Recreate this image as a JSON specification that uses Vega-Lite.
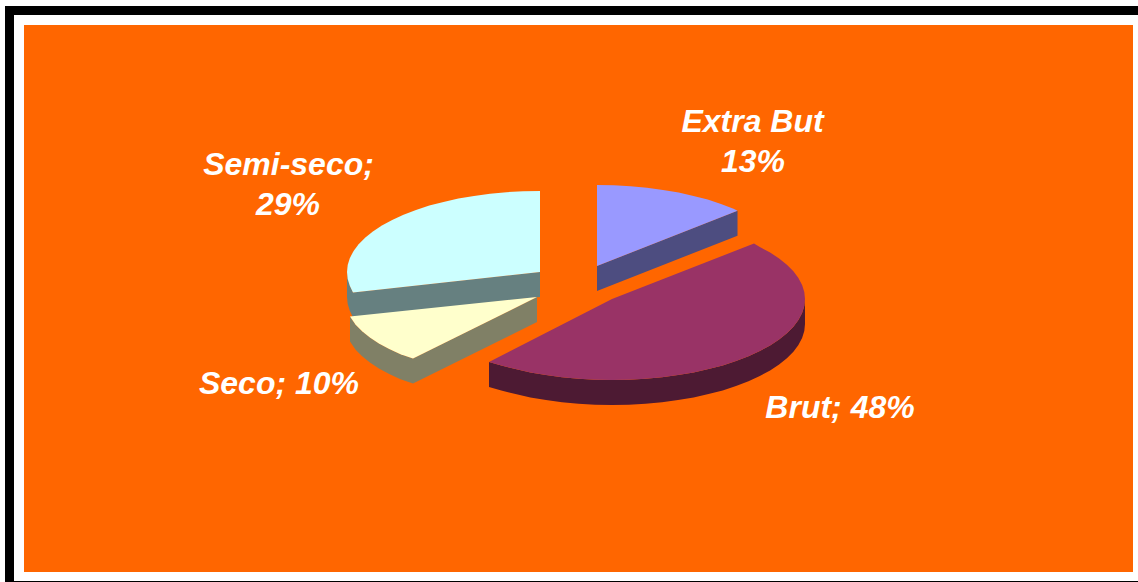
{
"$schema":"https://vega.github.io/schema/vega-lite/v6.json",
"width":1138,"height":582,"autosize":{"type":"fit","contains":"padding"},"padding":0,
"background":"#FFFFFF","config":{"view":{"stroke":null}},
"datasets":{
"frame":[
{"part":"black","x":5,"x2":1138,"y":6,"y2":15},
{"part":"black","x":5,"x2":14,"y":6,"y2":582},
{"part":"black","x":5,"x2":1138,"y":581,"y2":582},
{"part":"plot","x":24,"x2":1133,"y":25,"y2":572}],
"faces":[
{"face":"Extra But side","i":1,"x":597,"y":266},{"face":"Extra But side","i":2,"x":737.5,"y":210.7},{"face":"Extra But side","i":3,"x":737.5,"y":235.7},{"face":"Extra But side","i":4,"x":597,"y":291},
{"face":"Extra But top","i":1,"x":597,"y":266},{"face":"Extra But top","i":2,"x":597,"y":185},{"face":"Extra But top","i":3,"x":630.5,"y":186.2},{"face":"Extra But top","i":4,"x":663,"y":189.9},{"face":"Extra But top","i":5,"x":693.5,"y":195.9},{"face":"Extra But top","i":6,"x":721,"y":204},{"face":"Extra But top","i":7,"x":737.5,"y":210.7},
{"face":"Extra But top","i":2.5,"x":613.8,"y":185.3},{"face":"Extra But top","i":3.5,"x":647,"y":187.8},{"face":"Extra But top","i":4.5,"x":678.6,"y":192.6},{"face":"Extra But top","i":5.5,"x":707.7,"y":199.6},{"face":"Extra But top","i":6.5,"x":733.5,"y":208.7},
{"face":"Brut side","i":1,"x":805,"y":299},{"face":"Brut side","i":2,"x":802.1,"y":313.1},{"face":"Brut side","i":3,"x":793.4,"y":326.7},{"face":"Brut side","i":4,"x":779.1,"y":339.5},{"face":"Brut side","i":5,"x":759.8,"y":351},{"face":"Brut side","i":6,"x":736,"y":361},{"face":"Brut side","i":7,"x":708.5,"y":369.1},{"face":"Brut side","i":8,"x":678,"y":375.1},{"face":"Brut side","i":9,"x":645.5,"y":378.8},{"face":"Brut side","i":10,"x":612,"y":380},{"face":"Brut side","i":11,"x":578.5,"y":378.8},{"face":"Brut side","i":12,"x":546,"y":375.1},{"face":"Brut side","i":13,"x":515.5,"y":369.1},{"face":"Brut side","i":14,"x":489,"y":362},{"face":"Brut side","i":15,"x":489,"y":387},{"face":"Brut side","i":16,"x":515.5,"y":394.1},{"face":"Brut side","i":17,"x":546,"y":400.1},{"face":"Brut side","i":18,"x":578.5,"y":403.8},{"face":"Brut side","i":19,"x":612,"y":405},{"face":"Brut side","i":20,"x":645.5,"y":403.8},{"face":"Brut side","i":21,"x":678,"y":400.1},{"face":"Brut side","i":22,"x":708.5,"y":394.1},{"face":"Brut side","i":23,"x":736,"y":386},{"face":"Brut side","i":24,"x":759.8,"y":376},{"face":"Brut side","i":25,"x":779.1,"y":364.5},{"face":"Brut side","i":26,"x":793.4,"y":351.7},{"face":"Brut side","i":27,"x":802.1,"y":338.1},{"face":"Brut side","i":28,"x":805,"y":324},
{"face":"Brut side","i":1.5,"x":804.3,"y":306.1},{"face":"Brut side","i":2.5,"x":798.4,"y":320},{"face":"Brut side","i":3.5,"x":786.9,"y":333.2},{"face":"Brut side","i":4.5,"x":770.1,"y":345.5},{"face":"Brut side","i":5.5,"x":748.5,"y":356.3},{"face":"Brut side","i":6.5,"x":722.7,"y":365.4},{"face":"Brut side","i":7.5,"x":693.6,"y":372.4},{"face":"Brut side","i":8.5,"x":662,"y":377.2},{"face":"Brut side","i":9.5,"x":628.8,"y":379.7},{"face":"Brut side","i":10.5,"x":595.2,"y":379.7},{"face":"Brut side","i":11.5,"x":562,"y":377.2},{"face":"Brut side","i":12.5,"x":530.4,"y":372.4},{"face":"Brut side","i":13.5,"x":501.3,"y":365.4},
{"face":"Brut side","i":15.5,"x":501.3,"y":390.4},{"face":"Brut side","i":16.5,"x":530.4,"y":397.4},{"face":"Brut side","i":17.5,"x":562,"y":402.2},{"face":"Brut side","i":18.5,"x":595.2,"y":404.7},{"face":"Brut side","i":19.5,"x":628.8,"y":404.7},{"face":"Brut side","i":20.5,"x":662,"y":402.2},{"face":"Brut side","i":21.5,"x":693.6,"y":397.4},{"face":"Brut side","i":22.5,"x":722.7,"y":390.4},{"face":"Brut side","i":23.5,"x":748.5,"y":381.3},{"face":"Brut side","i":24.5,"x":770.1,"y":370.5},{"face":"Brut side","i":25.5,"x":786.9,"y":358.2},{"face":"Brut side","i":26.5,"x":798.4,"y":345},{"face":"Brut side","i":27.5,"x":804.3,"y":331.1},
{"face":"Brut top","i":1,"x":612,"y":299},{"face":"Brut top","i":2,"x":754,"y":243.5},{"face":"Brut top","i":3,"x":759.8,"y":247},{"face":"Brut top","i":4,"x":779.1,"y":258.5},{"face":"Brut top","i":5,"x":793.4,"y":271.3},{"face":"Brut top","i":6,"x":802.1,"y":284.9},{"face":"Brut top","i":7,"x":805,"y":299},{"face":"Brut top","i":8,"x":802.1,"y":313.1},{"face":"Brut top","i":9,"x":793.4,"y":326.7},{"face":"Brut top","i":10,"x":779.1,"y":339.5},{"face":"Brut top","i":11,"x":759.8,"y":351},{"face":"Brut top","i":12,"x":736,"y":361},{"face":"Brut top","i":13,"x":708.5,"y":369.1},{"face":"Brut top","i":14,"x":678,"y":375.1},{"face":"Brut top","i":15,"x":645.5,"y":378.8},{"face":"Brut top","i":16,"x":612,"y":380},{"face":"Brut top","i":17,"x":578.5,"y":378.8},{"face":"Brut top","i":18,"x":546,"y":375.1},{"face":"Brut top","i":19,"x":515.5,"y":369.1},{"face":"Brut top","i":20,"x":489,"y":362},
{"face":"Brut top","i":3.5,"x":770.1,"y":252.5},{"face":"Brut top","i":4.5,"x":786.9,"y":264.8},{"face":"Brut top","i":5.5,"x":798.4,"y":278},{"face":"Brut top","i":6.5,"x":804.3,"y":291.9},{"face":"Brut top","i":7.5,"x":804.3,"y":306.1},{"face":"Brut top","i":8.5,"x":798.4,"y":320},{"face":"Brut top","i":9.5,"x":786.9,"y":333.2},{"face":"Brut top","i":10.5,"x":770.1,"y":345.5},{"face":"Brut top","i":11.5,"x":748.5,"y":356.3},{"face":"Brut top","i":12.5,"x":722.7,"y":365.4},{"face":"Brut top","i":13.5,"x":693.6,"y":372.4},{"face":"Brut top","i":14.5,"x":662,"y":377.2},{"face":"Brut top","i":15.5,"x":628.8,"y":379.7},{"face":"Brut top","i":16.5,"x":595.2,"y":379.7},{"face":"Brut top","i":17.5,"x":562,"y":377.2},{"face":"Brut top","i":18.5,"x":530.4,"y":372.4},{"face":"Brut top","i":19.5,"x":501.3,"y":365.4},
{"face":"Semi-seco side","i":1,"x":347,"y":272},{"face":"Semi-seco side","i":2,"x":349.9,"y":286.1},{"face":"Semi-seco side","i":3,"x":353,"y":292.6},{"face":"Semi-seco side","i":4,"x":540,"y":272},{"face":"Semi-seco side","i":5,"x":540,"y":297},{"face":"Semi-seco side","i":6,"x":353,"y":317.6},{"face":"Semi-seco side","i":7,"x":349.9,"y":311.1},{"face":"Semi-seco side","i":8,"x":347,"y":297},
{"face":"Semi-seco side","i":1.5,"x":347.7,"y":279.1},{"face":"Semi-seco side","i":7.5,"x":347.7,"y":304.1},
{"face":"Semi-seco top","i":1,"x":540,"y":272},{"face":"Semi-seco top","i":2,"x":540,"y":191},{"face":"Semi-seco top","i":3,"x":506.5,"y":192.2},{"face":"Semi-seco top","i":4,"x":474,"y":195.9},{"face":"Semi-seco top","i":5,"x":443.5,"y":201.9},{"face":"Semi-seco top","i":6,"x":416,"y":210},{"face":"Semi-seco top","i":7,"x":392.2,"y":220},{"face":"Semi-seco top","i":8,"x":372.9,"y":231.5},{"face":"Semi-seco top","i":9,"x":358.6,"y":244.3},{"face":"Semi-seco top","i":10,"x":349.9,"y":257.9},{"face":"Semi-seco top","i":11,"x":347,"y":272},{"face":"Semi-seco top","i":12,"x":349.9,"y":286.1},{"face":"Semi-seco top","i":13,"x":353,"y":292.6},
{"face":"Semi-seco top","i":2.5,"x":523.2,"y":191.3},{"face":"Semi-seco top","i":3.5,"x":490,"y":193.8},{"face":"Semi-seco top","i":4.5,"x":458.4,"y":198.6},{"face":"Semi-seco top","i":5.5,"x":429.3,"y":205.6},{"face":"Semi-seco top","i":6.5,"x":403.5,"y":214.7},{"face":"Semi-seco top","i":7.5,"x":381.9,"y":225.5},{"face":"Semi-seco top","i":8.5,"x":365.1,"y":237.8},{"face":"Semi-seco top","i":9.5,"x":353.6,"y":251},{"face":"Semi-seco top","i":10.5,"x":347.7,"y":264.9},{"face":"Semi-seco top","i":11.5,"x":347.7,"y":279.1},
{"face":"Seco side","i":1,"x":350,"y":316.6},{"face":"Seco side","i":2,"x":355.6,"y":324.7},{"face":"Seco side","i":3,"x":369.9,"y":337.5},{"face":"Seco side","i":4,"x":389.2,"y":349},{"face":"Seco side","i":5,"x":413,"y":358.5},{"face":"Seco side","i":6,"x":537,"y":297},{"face":"Seco side","i":7,"x":537,"y":322},{"face":"Seco side","i":8,"x":413,"y":383.5},{"face":"Seco side","i":9,"x":389.2,"y":374},{"face":"Seco side","i":10,"x":369.9,"y":362.5},{"face":"Seco side","i":11,"x":355.6,"y":349.7},{"face":"Seco side","i":12,"x":350,"y":341.6},
{"face":"Seco side","i":2.5,"x":362.1,"y":331.2},{"face":"Seco side","i":3.5,"x":378.9,"y":343.5},{"face":"Seco side","i":4.5,"x":400.5,"y":354.3},{"face":"Seco side","i":8.5,"x":400.5,"y":379.3},{"face":"Seco side","i":9.5,"x":378.9,"y":368.5},{"face":"Seco side","i":10.5,"x":362.1,"y":356.2},
{"face":"Seco top","i":1,"x":537,"y":297},{"face":"Seco top","i":2,"x":350,"y":316.6},{"face":"Seco top","i":3,"x":355.6,"y":324.7},{"face":"Seco top","i":4,"x":369.9,"y":337.5},{"face":"Seco top","i":5,"x":389.2,"y":349},{"face":"Seco top","i":6,"x":413,"y":358.5},
{"face":"Seco top","i":3.5,"x":362.1,"y":331.2},{"face":"Seco top","i":4.5,"x":378.9,"y":343.5},{"face":"Seco top","i":5.5,"x":400.5,"y":354.3}
],
"labels":[
{"label":"Extra But","x":752.5,"y":132},{"label":"13%","x":753,"y":172},
{"label":"Semi-seco;","x":288.5,"y":175},{"label":"29%","x":288,"y":215},
{"label":"Seco; 10%","x":279,"y":394},
{"label":"Brut; 48%","x":840,"y":418}]
},
"layer":[
{"data":{"name":"frame"},"mark":{"type":"rect"},
"encoding":{"x":{"field":"x","type":"quantitative","scale":{"domain":[0,1138],"nice":false,"zero":false},"axis":null},"x2":{"field":"x2"},
"y":{"field":"y","type":"quantitative","scale":{"domain":[0,582],"nice":false,"zero":false,"reverse":true},"axis":null},"y2":{"field":"y2"},
"color":{"field":"part","type":"nominal","scale":{"domain":["black","plot"],"range":["#000000","#FF6600"]},"legend":null}}},
{"data":{"name":"faces"},"mark":{"type":"line","filled":true,"strokeWidth":0},
"encoding":{"x":{"field":"x","type":"quantitative","axis":null},"y":{"field":"y","type":"quantitative","axis":null},"order":{"field":"i","type":"quantitative"},"detail":{"field":"face"},
"color":{"field":"face","type":"nominal","scale":{"domain":["Extra But top","Extra But side","Brut top","Brut side","Semi-seco top","Semi-seco side","Seco top","Seco side"],"range":["#9999FF","#4D4D80","#993366","#4D1A33","#CCFFFF","#668080","#FFFFCC","#808066"]},"legend":null}}},
{"data":{"name":"labels"},"mark":{"type":"text","font":"Liberation Sans","fontWeight":"bold","fontStyle":"italic","fontSize":32,"color":"#FFFFFF","align":"center","baseline":"alphabetic"},
"encoding":{"x":{"field":"x","type":"quantitative","axis":null},"y":{"field":"y","type":"quantitative","axis":null},"text":{"field":"label"}}}
],
"resolve":{"scale":{"color":"independent"}}
}
